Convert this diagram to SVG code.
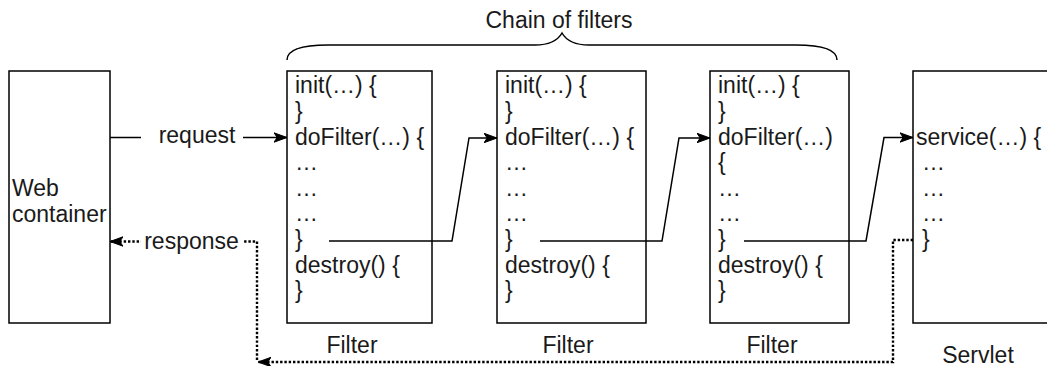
<svg xmlns="http://www.w3.org/2000/svg" width="1047" height="366" viewBox="0 0 1047 366">
<style>
  .box { fill: #ffffff; stroke: #000000; stroke-width: 1.5; }
  .t { font-family: "Liberation Sans", Arial, Helvetica, sans-serif; font-size: 23px; fill: #1a1a1a; }
  .mid { text-anchor: middle; }
  .edge { fill: none; stroke: #000000; stroke-width: 1.5; }
  .dot { fill: none; stroke: #000000; stroke-width: 2.4; stroke-dasharray: 2.4 1.9; }
  .lbl { fill: #ffffff; stroke: none; }
</style>
<defs>
  <marker id="arr" markerUnits="userSpaceOnUse" markerWidth="15" markerHeight="12" refX="13" refY="6" orient="auto">
    <path d="M0,1.3 L13,6 L0,10.7 L3.2,6 Z" fill="#000000" stroke="#000000" stroke-width="1" stroke-dasharray="none"/>
  </marker>
</defs>

<g id="brace">
  <path class="edge" d="M287,60 C287,50 300,45 328,45 L535,45 C550,45 558,40 562,33 C566,40 574,45 589,45 L796,45 C824,45 837,50 837,60"/>
  <text class="t mid" x="559" y="28">Chain of filters</text>
</g>

<g id="web-container">
  <rect class="box" x="9" y="71" width="101" height="252"/>
  <text class="t" x="12" y="196">Web</text>
  <text class="t" x="12" y="221.6">container</text>
</g>

<g id="filter1">
  <rect class="box" x="287" y="71" width="145" height="252"/>
  <text class="t" x="295">
    <tspan x="295" y="93.3">init(…) {</tspan>
    <tspan x="295" y="118.9">}</tspan>
    <tspan x="295" y="144.5">doFilter(…) {</tspan>
    <tspan x="295" y="170.1">…</tspan>
    <tspan x="295" y="195.7">…</tspan>
    <tspan x="295" y="221.3">…</tspan>
    <tspan x="295" y="246.9">}</tspan>
    <tspan x="295" y="272.5">destroy() {</tspan>
    <tspan x="295" y="298.1">}</tspan>
  </text>
  <text class="t mid" x="352" y="353">Filter</text>
</g>

<g id="filter2">
  <rect class="box" x="497" y="71" width="149" height="252"/>
  <text class="t">
    <tspan x="505" y="93.3">init(…) {</tspan>
    <tspan x="505" y="118.9">}</tspan>
    <tspan x="505" y="144.5">doFilter(…) {</tspan>
    <tspan x="505" y="170.1">…</tspan>
    <tspan x="505" y="195.7">…</tspan>
    <tspan x="505" y="221.3">…</tspan>
    <tspan x="505" y="246.9">}</tspan>
    <tspan x="505" y="272.5">destroy() {</tspan>
    <tspan x="505" y="298.1">}</tspan>
  </text>
  <text class="t mid" x="568" y="353">Filter</text>
</g>

<g id="filter3">
  <rect class="box" x="710" y="71" width="139" height="252"/>
  <text class="t">
    <tspan x="718" y="93.3">init(…) {</tspan>
    <tspan x="718" y="118.9">}</tspan>
    <tspan x="718" y="144.5">doFilter(…)</tspan>
    <tspan x="718" y="170.1">{</tspan>
    <tspan x="718" y="195.7">…</tspan>
    <tspan x="718" y="221.3">…</tspan>
    <tspan x="718" y="246.9">}</tspan>
    <tspan x="718" y="272.5">destroy() {</tspan>
    <tspan x="718" y="298.1">}</tspan>
  </text>
  <text class="t mid" x="772" y="353">Filter</text>
</g>

<g id="servlet">
  <rect class="box" x="913" y="71" width="145" height="252"/>
  <text class="t">
    <tspan x="916" y="144.5">service(…) {</tspan>
    <tspan x="922" y="170.1">…</tspan>
    <tspan x="922" y="195.7">…</tspan>
    <tspan x="922" y="221.3">…</tspan>
    <tspan x="922" y="246.9">}</tspan>
  </text>
  <text class="t mid" x="978" y="363">Servlet</text>
</g>

<g id="connectors">
  <path class="edge" d="M110,137.5 L287,137.5" marker-end="url(#arr)"/>
  <rect class="lbl" x="141" y="126" width="102" height="24"/>
  <text class="t mid" x="197" y="143">request</text>

  <path class="edge" d="M329,241 L452,241 L469,138 L497,138" marker-end="url(#arr)"/>
  <path class="edge" d="M540,241 L662,241 L679,138 L710,138" marker-end="url(#arr)"/>
  <path class="edge" d="M744,241 L866,241 L884,137.5 L913,137.5" marker-end="url(#arr)"/>

  <path class="dot" d="M913,240 L893,240 L893,362 L258,362" marker-end="url(#arr)"/>
  <path class="dot" d="M257,360 L257,241.5 L110,241.5" marker-end="url(#arr)"/>
  <rect class="lbl" x="141" y="230" width="103" height="24"/>
  <text class="t mid" x="191.5" y="249">response</text>
</g>
</svg>
